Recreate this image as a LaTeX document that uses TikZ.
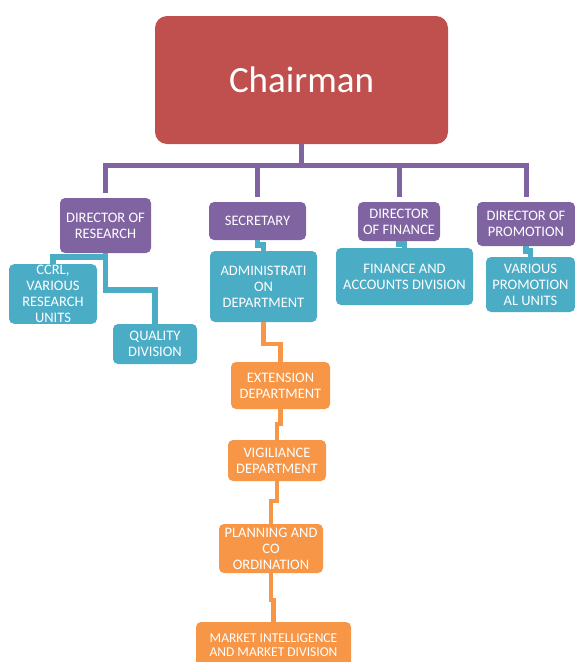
\documentclass[tikz,border=0pt]{standalone}
\usepackage{fontspec}
\setmainfont{Carlito}
\definecolor{chairred}{HTML}{C0504D}
\definecolor{dirpurple}{HTML}{8064A2}
\definecolor{unitblue}{HTML}{4BACC6}
\definecolor{deptorange}{HTML}{F79646}

\begin{document}
\begin{tikzpicture}[x=1pt,y=-1pt,
    box/.style={rounded corners=5pt, inner sep=1pt, text=white, align=center,
      font=\fontsize{14.5}{16}\selectfont},
    chairbox/.style={box, fill=chairred, rounded corners=12pt, font=\fontsize{37}{40}\selectfont},
    dirbox/.style={box, fill=dirpurple},
    unitbox/.style={box, fill=unitblue},
    deptbox/.style={box, fill=deptorange},
    purpleline/.style={draw=dirpurple, line width=5pt},
    blueline/.style={draw=unitblue, line width=5.5pt},
    orangeline/.style={draw=deptorange, line width=4.5pt}]
  \useasboundingbox (0,0) rectangle (575,662);
  \clip (0,0) rectangle (575,662);

  % top
  \node[chairbox, minimum width=293pt, minimum height=128pt] (chair) at (301.5,80) {Chairman};

  % directors
  \node[dirbox, minimum width=91pt, minimum height=55pt] (dres) at (105.5,225.5) {DIRECTOR OF\\RESEARCH};
  \node[dirbox, minimum width=97pt, minimum height=38pt] (sec) at (257.5,221) {SECRETARY};
  \node[dirbox, minimum width=82pt, minimum height=39pt] (dfin) at (399,221.5) {DIRECTOR\\OF FINANCE};
  \node[dirbox, minimum width=98pt, minimum height=44pt] (dpro) at (526,224) {DIRECTOR OF\\PROMOTION};

  % units
  \node[unitbox, minimum width=88pt, minimum height=58pt] (ccrl) at (53,294) {CCRL,\\VARIOUS\\RESEARCH\\UNITS};
  \node[unitbox, minimum width=84pt, minimum height=40pt] (qual) at (155,344) {QUALITY\\DIVISION};
  \node[unitbox, minimum width=107pt, minimum height=71pt] (admin) at (263.5,286.5) {ADMINISTRATI\\ON\\DEPARTMENT};
  \node[unitbox, minimum width=137pt, minimum height=57pt] (finacc) at (404.5,276.5) {FINANCE AND\\ACCOUNTS DIVISION};
  \node[unitbox, minimum width=89pt, minimum height=55pt] (prom) at (530.5,284.5) {VARIOUS\\PROMOTION\\AL UNITS};

  % departments under secretary
  \node[deptbox, minimum width=99pt, minimum height=47pt] (ext) at (280.5,385.5) {EXTENSION\\DEPARTMENT};
  \node[deptbox, minimum width=98pt, minimum height=41pt] (vig) at (277,460.5) {VIGILIANCE\\DEPARTMENT};
  \node[deptbox, minimum width=104pt, minimum height=49pt] (plan) at (271,548.5) {PLANNING AND\\CO\\ORDINATION};
  \node[deptbox, minimum width=155pt, minimum height=46pt, font=\fontsize{13.5}{14.5}\selectfont] (mkt) at (273.5,645) {MARKET INTELLIGENCE\\AND MARKET DIVISION};

  % connectors
  \draw[purpleline] (chair.south) -- ++(0,21) coordinate (bus);
  \draw[purpleline, shorten >=5pt] (bus) -| (dres.north);
  \draw[purpleline, shorten >=5pt] (bus) -| (sec.north);
  \draw[purpleline, shorten >=5pt] (bus) -| (dfin.north);
  \draw[purpleline, shorten >=5pt] (bus) -| (dpro.north);

  \draw[blueline] (dres.south) -- ++(0,4) -| (ccrl.north);
  \draw[blueline] (dres.south) -- ++(0,37) -| (qual.north);
  \draw[blueline] (sec.south) -- ++(0,5) -| (admin.north);
  \draw[blueline] (dfin.south) -- ++(0,3) -| (finacc.north);
  \draw[blueline] (dpro.south) -- ++(0,5) -| (prom.north);

  \draw[orangeline] (admin.south) -- ++(0,22) -| (ext.north);
  \draw[orangeline] (ext.south) -- ++(0,15) -| (vig.north);
  \draw[orangeline] (vig.south) -- ++(0,20) -| (plan.north);
  \draw[orangeline] (plan.south) -- ++(0,27) -| (mkt.north);
\end{tikzpicture}
\end{document}
